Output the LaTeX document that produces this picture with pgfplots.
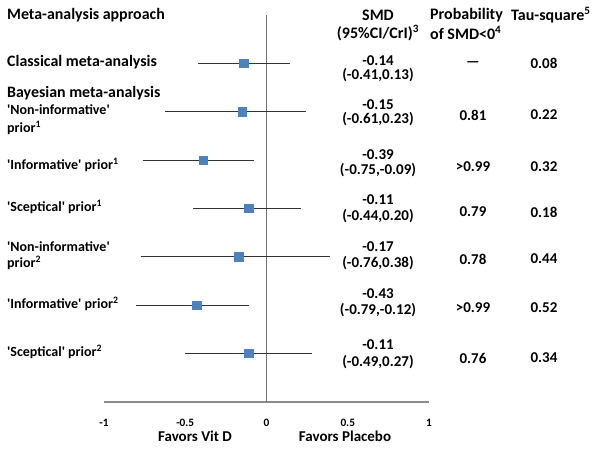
\documentclass[border=0pt]{standalone}
\usepackage{pgfplots}
\pgfplotsset{compat=1.18}
\usepackage{fontspec}
\setmainfont{Carlito}
\definecolor{mblue}{HTML}{4F81BD}
\newcommand{\bigf}{\bfseries\fontsize{15.9bp}{18bp}\selectfont}
\newcommand{\smf}{\bfseries\fontsize{14bp}{16bp}\selectfont}
\newcommand{\hdf}{\bfseries\fontsize{16bp}{18bp}\selectfont}
\newcommand{\vf}{\bfseries\fontsize{15bp}{17bp}\selectfont}
\newcommand{\tkf}{\bfseries\fontsize{11.3bp}{13bp}\selectfont}
\newcommand{\q}{\textquotesingle}
\begin{document}
\begin{tikzpicture}
\begin{axis}[
  scale only axis, width=325bp, height=386.7bp,
  xmin=-1, xmax=1, ymin=0, ymax=8,
  axis x line=bottom, axis y line=none,
  x axis line style={-, line width=2bp, color=black!45},
  xtick={-1,-0.5,0,0.5,1}, xticklabels={-1,-0.5,0,0.5,1},
  major tick length=0pt,
  xticklabel style={font=\tkf, yshift=-13.5bp},
  clip=false,
]
\draw[black!55, line width=0.8bp] (axis cs:0,0) -- (axis cs:0,8);
\addplot[only marks, mark=square*, mark size=4.3bp,
  mark options={fill=mblue, draw=mblue},
  error bars/.cd, x dir=both, x explicit,
  error bar style={black!80, line width=0.8bp},
  error mark options={black!80, mark size=2bp, line width=0.8bp}]
coordinates {
(-0.14,7) += (0.27,0) -= (0.27,0)
(-0.15,6) += (0.38,0) -= (0.46,0)
(-0.39,5) += (0.30,0) -= (0.36,0)
(-0.11,4) += (0.31,0) -= (0.33,0)
(-0.17,3) += (0.55,0) -= (0.59,0)
(-0.43,2) += (0.31,0) -= (0.36,0)
(-0.11,1) += (0.38,0) -= (0.38,0)
};
\coordinate (TL) at ([shift={(-104bp,15bp)}]axis cs:-1,8);
\end{axis}
\path (TL) rectangle ++(604bp,-454bp);
% left labels
\begin{scope}[every node/.style={anchor=west, inner sep=0pt}]
\node at ([shift={(7bp,-15bp)}]TL) {\bigf Meta-analysis approach};
\node at ([shift={(7bp,-62bp)}]TL) {\bigf Classical meta-analysis};
\node at ([shift={(7bp,-93bp)}]TL) {\bigf Bayesian meta-analysis};
\node at ([shift={(7bp,-110bp)}]TL) {\smf \q Non-informative\q};
\node at ([shift={(7bp,-128bp)}]TL) {\smf prior\textsuperscript{1}};
\node at ([shift={(7bp,-165bp)}]TL) {\smf \q Informative\q\ prior\textsuperscript{1}};
\node at ([shift={(7bp,-207bp)}]TL) {\smf \q Sceptical\q\ prior\textsuperscript{1}};
\node at ([shift={(7bp,-247bp)}]TL) {\smf \q Non-informative\q};
\node at ([shift={(7bp,-263bp)}]TL) {\smf prior\textsuperscript{2}};
\node at ([shift={(7bp,-304bp)}]TL) {\smf \q Informative\q\ prior\textsuperscript{2}};
\node at ([shift={(7bp,-352bp)}]TL) {\smf \q Sceptical\q\ prior\textsuperscript{2}};
\node at ([shift={(430bp,-15bp)}]TL) {\hdf Probability};
\node at ([shift={(430bp,-33bp)}]TL) {\hdf of SMD<0\textsuperscript{4}};
\node at ([shift={(511bp,-15bp)}]TL) {\hdf Tau-square\textsuperscript{5}};
\end{scope}
\begin{scope}[every node/.style={anchor=center, inner sep=0pt}]
\node at ([shift={(378bp,-15bp)}]TL) {\hdf SMD};
\node at ([shift={(378bp,-33bp)}]TL) {\hdf (95\%CI/CrI)\textsuperscript{3}};
% SMD column
\node at ([shift={(378bp,-61bp)}]TL) {\vf -0.14};
\node at ([shift={(378bp,-75bp)}]TL) {\vf (-0.41,0.13)};
\node at ([shift={(378bp,-105bp)}]TL) {\vf -0.15};
\node at ([shift={(378bp,-119bp)}]TL) {\vf (-0.61,0.23)};
\node at ([shift={(378bp,-155bp)}]TL) {\vf -0.39};
\node at ([shift={(378bp,-170bp)}]TL) {\vf (-0.75,-0.09)};
\node at ([shift={(378bp,-200bp)}]TL) {\vf -0.11};
\node at ([shift={(378bp,-216bp)}]TL) {\vf (-0.44,0.20)};
\node at ([shift={(378bp,-247bp)}]TL) {\vf -0.17};
\node at ([shift={(378bp,-263bp)}]TL) {\vf (-0.76,0.38)};
\node at ([shift={(378bp,-294bp)}]TL) {\vf -0.43};
\node at ([shift={(378bp,-310bp)}]TL) {\vf (-0.79,-0.12)};
\node at ([shift={(378bp,-345bp)}]TL) {\vf -0.11};
\node at ([shift={(378bp,-362bp)}]TL) {\vf (-0.49,0.27)};
% probability column
\node at ([shift={(473bp,-64bp)}]TL) {\vf ---};
\node at ([shift={(473bp,-115bp)}]TL) {\vf 0.81};
\node at ([shift={(473bp,-167bp)}]TL) {\vf >0.99};
\node at ([shift={(473bp,-212bp)}]TL) {\vf 0.79};
\node at ([shift={(473bp,-259bp)}]TL) {\vf 0.78};
\node at ([shift={(473bp,-308bp)}]TL) {\vf >0.99};
\node at ([shift={(473bp,-358bp)}]TL) {\vf 0.76};
% tau column
\node at ([shift={(544bp,-63bp)}]TL) {\vf 0.08};
\node at ([shift={(544bp,-115bp)}]TL) {\vf 0.22};
\node at ([shift={(544bp,-167bp)}]TL) {\vf 0.32};
\node at ([shift={(544bp,-212bp)}]TL) {\vf 0.18};
\node at ([shift={(544bp,-259bp)}]TL) {\vf 0.44};
\node at ([shift={(544bp,-308bp)}]TL) {\vf 0.52};
\node at ([shift={(544bp,-358bp)}]TL) {\vf 0.34};
% bottom
\node at ([shift={(195bp,-436bp)}]TL) {\vf Favors Vit D};
\node at ([shift={(345bp,-436bp)}]TL) {\vf Favors Placebo};
\end{scope}
\end{tikzpicture}
\end{document}
